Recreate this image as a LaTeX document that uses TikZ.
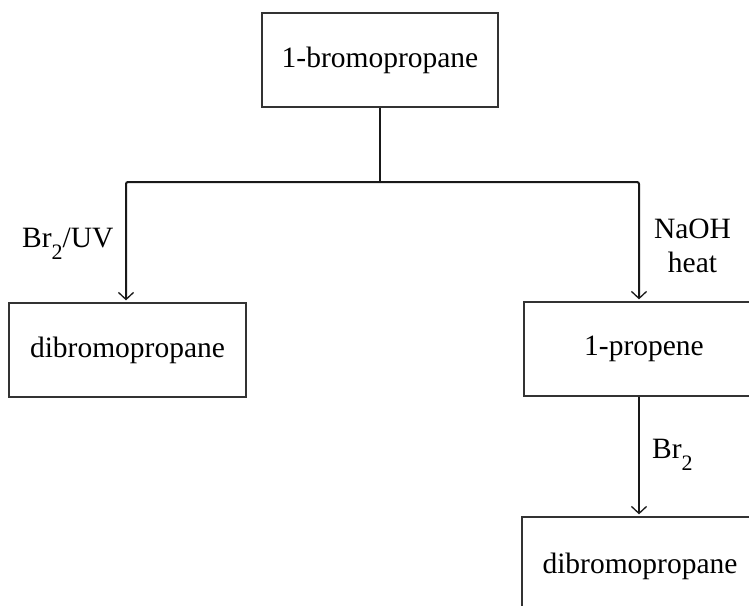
\documentclass[tikz,border=0pt]{standalone}
\usepackage{fontspec}
\setmainfont{Liberation Serif}
\usetikzlibrary{arrows.meta}
\newcommand\lowsub[1]{\raisebox{-0.42em}{\fontsize{22}{22}\selectfont #1}}
\tikzset{
  box/.style={draw=black!80, line width=1.3pt, rectangle, inner sep=0pt,
              font=\fontsize{29.5}{34}\selectfont},
  conn/.style={draw=black!90, line width=2pt},
  arr/.style={conn, -{Straight Barb[length=7pt, width=15pt, line width=1.3pt]}, shorten >=2pt},
  lab/.style={inner sep=0pt, font=\fontsize{29.5}{34}\selectfont}
}
\begin{document}
\begin{tikzpicture}[x=1pt, y=-1pt]
  \useasboundingbox (0,0) rectangle (749,605);
  \clip (0,0) rectangle (749,605);
  \node[box, minimum width=236pt, minimum height=94pt] (top) at (380,60) {1-bromopropane};
  \node[box, minimum width=237pt, minimum height=94pt] (left) at (127.5,350) {dibromopropane};
  \node[box, minimum width=240pt, minimum height=94pt] (mid) at (644,349) {1-propene};
  \node[box, minimum width=236pt, minimum height=98pt] (bot) at (640,566) {dibromopropane};

  \coordinate (j) at (380,182);
  \coordinate (jl) at (126,182);
  \coordinate (jr) at (639,182);

  \draw[conn] (top.south) -- (j);
  \draw[arr, rounded corners=2pt] (j) -- (jl) -- (jl |- left.north);
  \draw[arr, rounded corners=2pt] (j) -- (jr) -- (jr |- mid.north);
  \draw[arr] (jr |- mid.south) -- (jr |- bot.north);

  \node[lab, anchor=base west] (l1) at (22,247) {Br\lowsub{2}/UV};
  \node[lab, anchor=base] (l2) at (692.5,238) {NaOH};
  \node[lab, anchor=base] (l3) at (692.5,272) {heat};
  \node[lab, anchor=base west] (l4) at (652,458) {Br\lowsub{2}};
\end{tikzpicture}
\end{document}
